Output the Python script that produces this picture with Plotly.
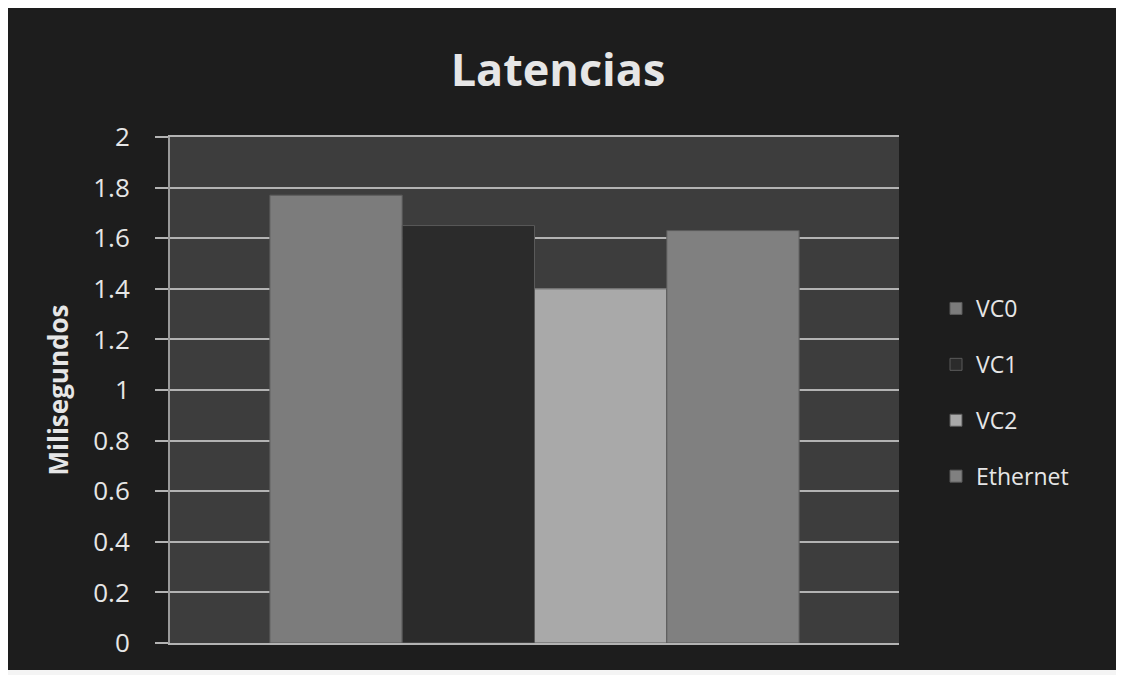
import plotly.graph_objects as go

series = ["VC0", "VC1", "VC2", "Ethernet"]
values = [1.77, 1.65, 1.40, 1.63]
colors = ["#7c7c7c", "#2b2b2b", "#a9a9a9", "#808080"]
category = [""]
y_ticks = [0, 0.2, 0.4, 0.6, 0.8, 1, 1.2, 1.4, 1.6, 1.8, 2]
y_tick_text = ["0", "0.2", "0.4", "0.6", "0.8", "1", "1.2", "1.4", "1.6", "1.8", "2"]

fig = go.Figure()
for name, v, c in zip(series, values, colors):
    fig.add_trace(go.Bar(
        name=name, x=category, y=[v],
        marker=dict(color=c, line=dict(color="#5a5a5a", width=1)),
        legendgroup=name,
    ))

# page body has an 8px margin, so figure is 8px smaller than the window
W, H = 1116, 667
ml, mr, mt, mb = 162, 225, 129, 32
pw, ph = W - ml - mr, H - mt - mb

def px_x(p):
    return (p - ml) / pw

def px_y(p):
    return (H - mb - p) / ph

# thin light frame on the right and bottom edges
fig.add_shape(type="rect", xref="paper", yref="paper",
              x0=px_x(1113), x1=px_x(1120), y0=px_y(670), y1=px_y(0),
              fillcolor="#f4f4f4", line=dict(width=0), layer="above")
fig.add_shape(type="rect", xref="paper", yref="paper",
              x0=px_x(-10), x1=px_x(1120), y0=px_y(670), y1=px_y(662),
              fillcolor="#f4f4f4", line=dict(width=0), layer="above")

fig.update_layout(
    width=W, height=H,
    margin=dict(l=ml, r=mr, t=mt, b=mb, autoexpand=False),
    paper_bgcolor="#1d1d1d",
    plot_bgcolor="#3d3d3d",
    barmode="group",
    bargap=0.274,
    bargroupgap=0,
    title=dict(text="<b>Latencias</b>", x=px_x(550), xref="paper", xanchor="center",
               y=1 - 62 / H, yanchor="middle",
               font=dict(family="Open Sans", size=45, color="#e6e6e6")),
    font=dict(family="Open Sans", color="#e6e6e6"),
    legend=dict(x=px_x(928), xanchor="left", y=px_y(279), yanchor="top",
                font=dict(size=23, color="#e6e6e6"),
                bgcolor="rgba(0,0,0,0)", tracegroupgap=23,
                itemwidth=30),
    showlegend=True,
)
fig.update_xaxes(showticklabels=False, showgrid=False, zeroline=False,
                 showline=True, mirror=True, linecolor="#b3b3b3", linewidth=2,
                 ticks="")
fig.update_yaxes(range=[0, 2], tickvals=y_ticks, ticktext=y_tick_text,
                 showgrid=True, gridcolor="#b3b3b3", gridwidth=2,
                 zeroline=False, showline=True, linecolor="#9a9a9a", linewidth=2,
                 ticks="outside", ticklen=13, tickcolor="#b3b3b3", tickwidth=2,
                 ticklabelstandoff=20,
                 tickfont=dict(size=26, color="#e6e6e6"),
                 title=dict(text="<b>Milisegundos</b>", standoff=17,
                            font=dict(size=26, color="#e6e6e6")))

fig.write_html("out.html")
